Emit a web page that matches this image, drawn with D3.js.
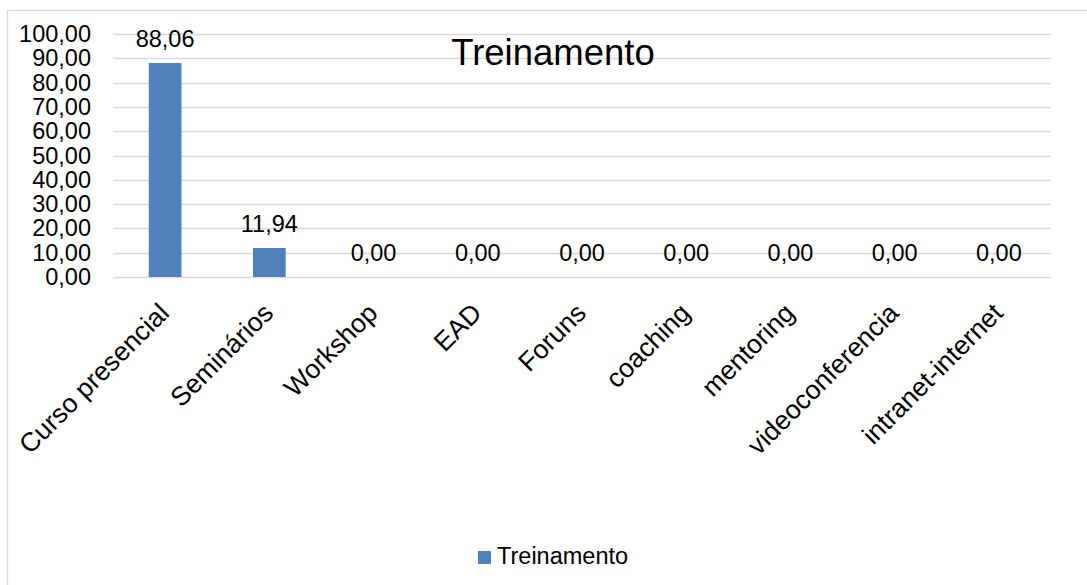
<!DOCTYPE html>
<html>
<head>
<meta charset="utf-8">
<script src="https://cdn.jsdelivr.net/npm/d3@7"></script>
<style>
  html, body { margin: 0; padding: 0; background: #fff; }
  svg { display: block; font-family: "Liberation Sans", Arial, sans-serif; }
</style>
</head>
<body>
<svg id="chart" width="1087" height="585"></svg>
<script>
const categories = ["Curso presencial", "Seminários", "Workshop", "EAD", "Foruns", "coaching", "mentoring", "videoconferencia", "intranet-internet"];
const values = [88.06, 11.94, 0, 0, 0, 0, 0, 0, 0];
const yTicks = [0, 10, 20, 30, 40, 50, 60, 70, 80, 90, 100];
const seriesName = "Treinamento";
const titleText = "Treinamento";

const svg = d3.select("#chart");
const W = 1087, H = 585;
const fs = 23.5;
const catFs = 26.5;
const fmt = v => d3.format(".2f")(v).replace(".", ",");

// chart border
svg.append("rect").attr("x", 7.5).attr("y", 10.5).attr("width", W + 20).attr("height", H + 20)
  .attr("fill", "#fff").attr("stroke", "#D9D9D9").attr("stroke-width", 1.3);

const plot = { left: 113, right: 1051, top: 34, bottom: 277 };

const x = d3.scaleBand().domain(categories).range([plot.left, plot.right]).paddingInner(0.686).paddingOuter(0.343);
const y = d3.scaleLinear().domain([0, 100]).range([plot.bottom, plot.top]);

// gridlines
svg.append("g").selectAll("line").data(yTicks).join("line")
  .attr("x1", plot.left).attr("x2", plot.right)
  .attr("y1", d => Math.round(y(d)) + 0.5).attr("y2", d => Math.round(y(d)) + 0.5)
  .attr("stroke", "#D9D9D9").attr("stroke-width", 1.3);

// y axis labels
const yAxis = d3.axisLeft(y).tickValues(yTicks).tickFormat(fmt).tickSize(0).tickPadding(0);
const gy = svg.append("g").attr("transform", `translate(91,0)`).call(yAxis);
gy.select(".domain").remove();
gy.selectAll("text").attr("font-size", fs).attr("fill", "#000").attr("font-family", "Liberation Sans, Arial, sans-serif");

// bars
svg.append("g").selectAll("rect").data(values).join("rect")
  .attr("x", (d, i) => x(categories[i]))
  .attr("width", x.bandwidth())
  .attr("y", d => y(d))
  .attr("height", d => y(0) - y(d))
  .attr("fill", "#4F81BD");

// data labels
svg.append("g").selectAll("text").data(values).join("text")
  .attr("x", (d, i) => x(categories[i]) + x.bandwidth() / 2)
  .attr("y", d => y(d) - 16)
  .attr("text-anchor", "middle")
  .attr("font-size", fs).attr("fill", "#000")
  .text(d => fmt(d));

// category labels
const xAxis = d3.axisBottom(x).tickSize(0).tickPadding(0);
const gx = svg.append("g").attr("transform", `translate(0,${plot.bottom})`).call(xAxis);
gx.select(".domain").remove();
gx.selectAll("text")
  .attr("font-size", catFs).attr("fill", "#000").attr("font-family", "Liberation Sans, Arial, sans-serif")
  .attr("text-anchor", "end")
  .attr("transform", "translate(-1,31) rotate(-45)")
  .attr("y", 0).attr("dy", "0.35em");

// title
svg.append("text").attr("x", 553).attr("y", 65).attr("text-anchor", "middle")
  .attr("font-size", 36.5).attr("fill", "#000").text(titleText);

// legend
const lg = svg.append("g");
lg.append("rect").attr("x", 478).attr("y", 551).attr("width", 13).attr("height", 13).attr("fill", "#4F81BD");
lg.append("text").attr("x", 497).attr("y", 564).attr("font-size", fs).attr("fill", "#000").text(seriesName);
</script>
</body>
</html>
